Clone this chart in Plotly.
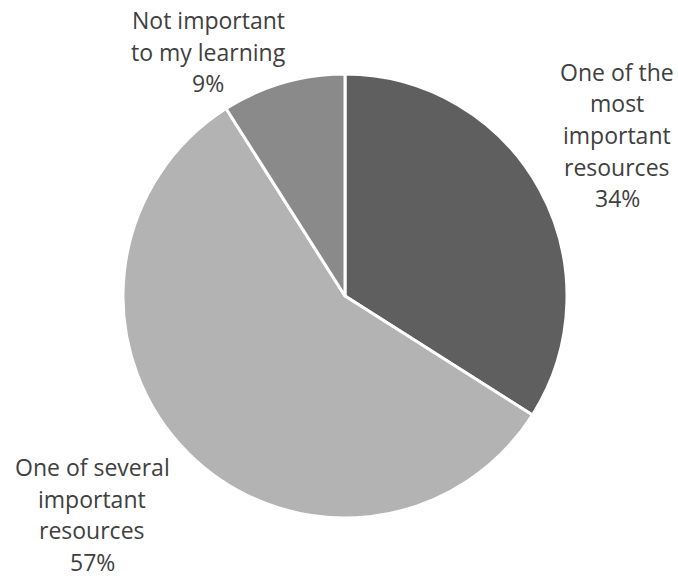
import plotly.graph_objects as go

# Survey responses: importance of the resource to learning
labels = ["One of the\nmost\nimportant\nresources",
          "One of several\nimportant\nresources",
          "Not important\nto my learning"]
shares = [34, 57, 9]
colors = ["#5f5f5f", "#b3b3b3", "#8a8a8a"]

W, H = 678, 579

fig = go.Figure(go.Pie(
    values=shares,
    labels=[l.replace("\n", " ") for l in labels],
    sort=False,
    direction="clockwise",
    rotation=0,
    marker=dict(colors=colors, line=dict(color="white", width=3)),
    textinfo="none",
    hoverinfo="label+percent",
    domain=dict(x=[(345 - 222) / W, (345 + 222) / W],
                y=[(H - 518) / H, (H - 74) / H]),
    showlegend=False,
))

# Outside label blocks: centre x and first-line baseline (pixels from top)
label_pos = [(617, 81), (92, 476), (208, 29)]
line_gap = 31.5
font = dict(family="Open Sans", size=23, color="#404040")

annotations = []
for text, share, (cx, base) in zip(labels, shares, label_pos):
    lines = text.split("\n") + [f"{share}%"]
    for i, line in enumerate(lines):
        y_px = base + i * line_gap - 9
        annotations.append(dict(
            x=cx / W, y=1 - y_px / H, xref="paper", yref="paper",
            text=line, showarrow=False, xanchor="center", yanchor="middle",
            font=font,
        ))

fig.update_layout(
    width=W, height=H,
    margin=dict(l=0, r=0, t=0, b=0),
    paper_bgcolor="white",
    plot_bgcolor="white",
    annotations=annotations,
)

fig.write_html("out.html")
